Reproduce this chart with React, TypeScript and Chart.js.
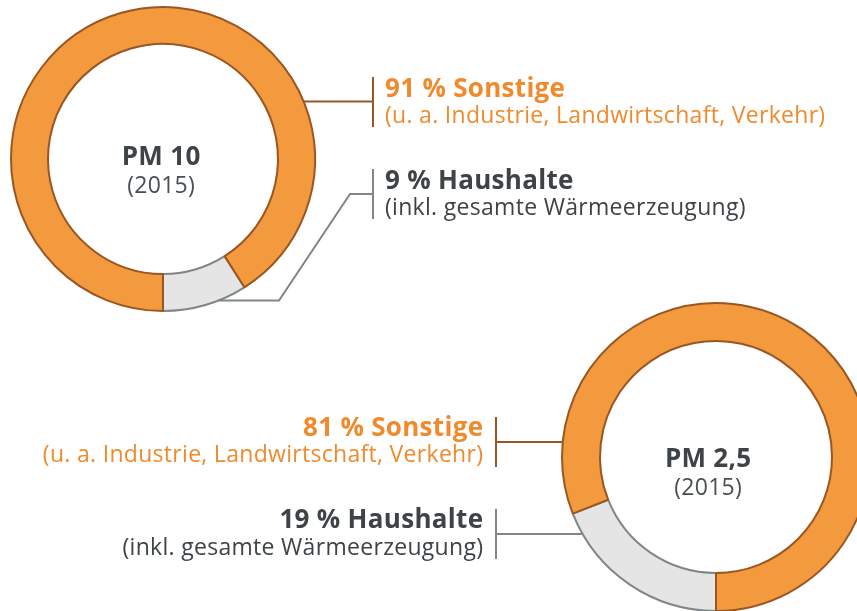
import React, { useEffect, useRef } from 'react';
import { Chart, registerables } from 'chart.js';

Chart.register(...registerables);

// ---- data ----
const categories = ['Haushalte', 'Sonstige'];
const pm10Values = [9, 91];
const pm25Values = [19, 81];
const chartTitles = ['PM 10', 'PM 2,5'];
const chartYears = ['(2015)', '(2015)'];
const sonstigeSub = '(u. a. Industrie, Landwirtschaft, Verkehr)';
const haushalteSub = '(inkl. gesamte Wärmeerzeugung)';

// ---- styles ----
const ORANGE_FILL = '#F39A3F';
const BROWN_LINE = '#9A5622';
const GRAY_FILL = '#E4E5E4';
const GRAY_LINE = '#7F8588';
const ORANGE_TEXT = '#F08A2C';
const DARK_TEXT = '#3E4347';
const FONT = '"Open Sans", "Noto Sans", sans-serif';

type LabelSpec = {
  index: number;
  title: string;
  sub: string;
  textColor: string;
  lineColor: string;
  edgeY: number;
  side: 1 | -1;
  path: [number, number][];
  bracketX: number;
  bracketTop: number;
  bracketBottom: number;
  textX: number;
  align: CanvasTextAlign;
  boldBase: number;
  subBase: number;
};

function fillSpaced(ctx: any, text: string, x: number, y: number, spacing: number) {
  ctx.letterSpacing = `${spacing}px`;
  let dx = 0;
  if (ctx.textAlign === 'right') dx = spacing;
  else if (ctx.textAlign === 'center') dx = spacing / 2;
  ctx.fillText(text, x + dx, y);
  ctx.letterSpacing = '0px';
}

const labelPlugin = {
  id: 'leaderLabels',
  afterDraw(chart: any, _args: any, opts: any) {
    const ctx: CanvasRenderingContext2D = chart.ctx;
    const meta = chart.getDatasetMeta(0);
    const arc0 = meta.data[0] as any;
    const cx = arc0.x;
    const cy = arc0.y;
    const R = arc0.outerRadius;
    ctx.save();
    // center text
    ctx.textAlign = 'center';
    ctx.textBaseline = 'alphabetic';
    ctx.fillStyle = DARK_TEXT;
    ctx.font = `bold 26px ${FONT}`;
    fillSpaced(ctx, opts.title, cx + opts.centerDx, cy + opts.titleDy, 0.3);
    ctx.font = `23px ${FONT}`;
    ctx.fillStyle = '#4A4F53';
    fillSpaced(ctx, opts.year, cx + opts.centerDx, cy + opts.yearDy, 0.3);

    (opts.labels as LabelSpec[]).forEach((l) => {
      const dy = l.edgeY - cy;
      const ex = cx + l.side * Math.sqrt(Math.max(R * R - dy * dy, 0));
      ctx.strokeStyle = l.lineColor;
      ctx.lineWidth = 2;
      ctx.lineJoin = 'miter';
      ctx.beginPath();
      ctx.moveTo(ex, l.edgeY);
      l.path.forEach(([x, y]) => ctx.lineTo(x, y));
      ctx.stroke();
      ctx.beginPath();
      ctx.moveTo(l.bracketX, l.bracketTop);
      ctx.lineTo(l.bracketX, l.bracketBottom);
      ctx.stroke();
      ctx.textAlign = l.align;
      ctx.fillStyle = l.textColor;
      ctx.font = `bold 26px ${FONT}`;
      fillSpaced(ctx, l.title, l.textX, l.boldBase, 0.3);
      ctx.font = `23px ${FONT}`;
      fillSpaced(ctx, l.sub, l.textX, l.subBase, 0.3);
    });
    ctx.restore();
  },
};

function makeConfig(values: number[], idx: number, rotation: number, radius: number, cutout: string, padding: any, labels: LabelSpec[], centerDx: number, titleDy: number, yearDy: number): any {
  return {
    type: 'doughnut',
    data: {
      labels: categories,
      datasets: [
        {
          data: values,
          backgroundColor: [GRAY_FILL, ORANGE_FILL],
          borderColor: [GRAY_LINE, BROWN_LINE],
          borderWidth: 2,
          hoverOffset: 0,
        },
      ],
    },
    options: {
      responsive: false,
      animation: false,
      events: [],
      rotation,
      radius,
      cutout,
      layout: { padding },
      plugins: {
        legend: { display: false },
        tooltip: { enabled: false },
        leaderLabels: { title: chartTitles[idx], year: chartYears[idx], labels, centerDx, titleDy, yearDy },
      },
    },
    plugins: [labelPlugin],
  };
}

export default function App() {
  const c1 = useRef<HTMLCanvasElement>(null);
  const c2 = useRef<HTMLCanvasElement>(null);

  useEffect(() => {
    const labels1: LabelSpec[] = [
      {
        index: 1,
        title: `${pm10Values[1]} % ${categories[1]}`,
        sub: sonstigeSub,
        textColor: ORANGE_TEXT,
        lineColor: BROWN_LINE,
        edgeY: 101.5,
        side: 1,
        path: [[373, 101.5]],
        bracketX: 373,
        bracketTop: 77,
        bracketBottom: 127,
        textX: 385,
        align: 'left',
        boldBase: 97,
        subBase: 123,
      },
      {
        index: 0,
        title: `${pm10Values[0]} % ${categories[0]}`,
        sub: haushalteSub,
        textColor: DARK_TEXT,
        lineColor: GRAY_LINE,
        edgeY: 300.5,
        side: 1,
        path: [[279, 300.5], [350, 194], [373, 194]],
        bracketX: 373,
        bracketTop: 169,
        bracketBottom: 219,
        textX: 385,
        align: 'left',
        boldBase: 189,
        subBase: 215,
      },
    ];
    const labels2: LabelSpec[] = [
      {
        index: 1,
        title: `${pm25Values[1]} % ${categories[1]}`,
        sub: sonstigeSub,
        textColor: ORANGE_TEXT,
        lineColor: BROWN_LINE,
        edgeY: 442,
        side: -1,
        path: [[496, 442]],
        bracketX: 496,
        bracketTop: 417,
        bracketBottom: 467,
        textX: 483,
        align: 'right',
        boldBase: 436,
        subBase: 462,
      },
      {
        index: 0,
        title: `${pm25Values[0]} % ${categories[0]}`,
        sub: haushalteSub,
        textColor: DARK_TEXT,
        lineColor: GRAY_LINE,
        edgeY: 534,
        side: -1,
        path: [[496, 534]],
        bracketX: 496,
        bracketTop: 509,
        bracketBottom: 559,
        textX: 483,
        align: 'right',
        boldBase: 528,
        subBase: 555,
      },
    ];
    // chart 1: center (163,159), R 152, r 115
    const ch1 = new Chart(
      c1.current!,
      makeConfig(pm10Values, 0, 90 + (90 - (pm10Values[0] / 100) * 360), 152, `${(115 / 152) * 100}%`,
        { left: 4, top: 0, right: 857 - 322, bottom: 611 - 318 }, labels1, -2, 6, 34)
    );
    // chart 2: center (716,457), R 154, r 116
    const ch2 = new Chart(
      c2.current!,
      makeConfig(pm25Values, 1, 180, 154, `${(116 / 154) * 100}%`,
        { left: 536, top: 277, right: 900 - 896, bottom: 700 - 637 }, labels2, -8, 10, 38)
    );
    return () => {
      ch1.destroy();
      ch2.destroy();
    };
  }, []);

  return (
    <div style={{ position: 'absolute', left: 0, top: 0, width: 857, height: 611, overflow: 'hidden', background: '#ffffff' }}>
      <canvas ref={c1} width={857} height={611} style={{ position: 'absolute', left: 0, top: 0, width: 857, height: 611 }} />
      <canvas ref={c2} width={900} height={700} style={{ position: 'absolute', left: 0, top: 0, width: 900, height: 700 }} />
    </div>
  );
}
